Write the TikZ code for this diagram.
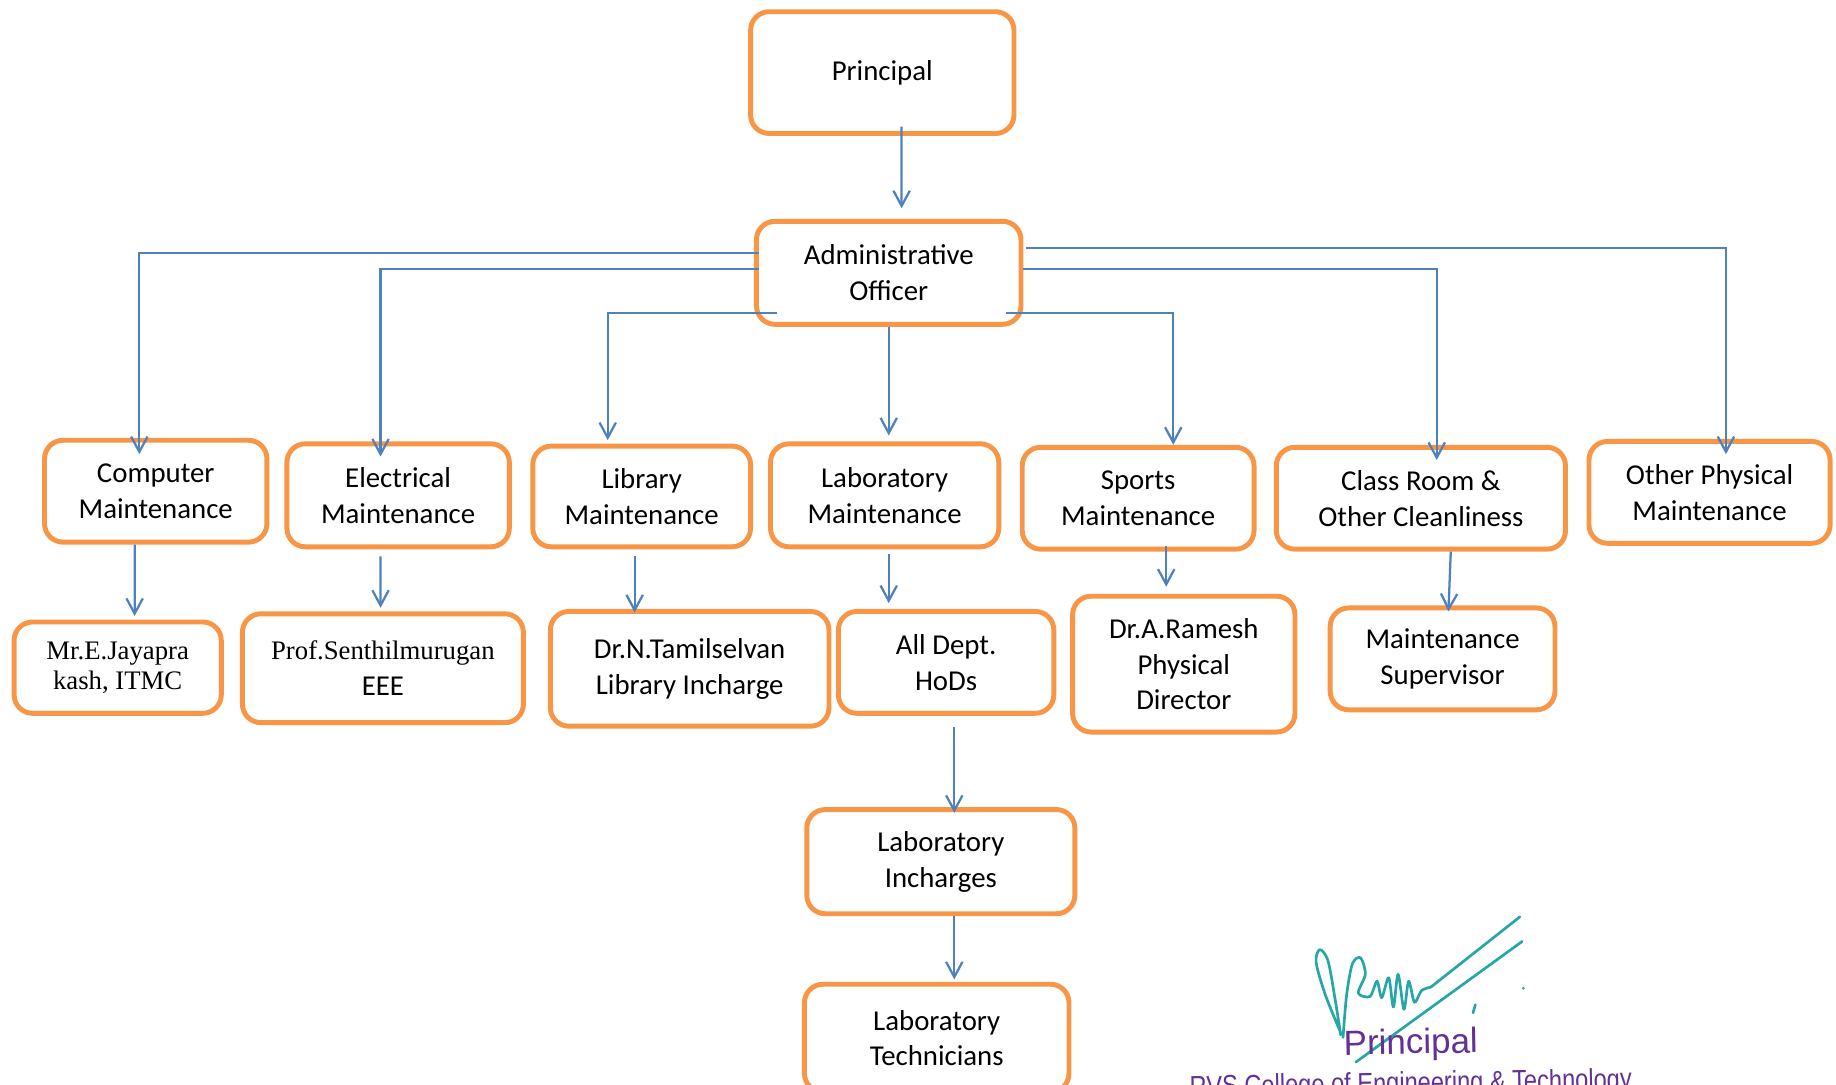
\documentclass[tikz,border=0pt]{standalone}
\usepackage{fontspec}
\setmainfont{Carlito}
\newfontfamily\timesfont{Liberation Serif}
\newfontfamily\stampfont{Liberation Sans}
\usetikzlibrary{positioning, arrows.meta}
\definecolor{BoxOrange}{RGB}{247,150,70}
\definecolor{LinkBlue}{RGB}{79,129,189}
\definecolor{StampPurple}{RGB}{98,48,150}
\definecolor{InkTeal}{RGB}{38,166,164}

\begin{document}
\begin{tikzpicture}[
    x=0.02cm, y=-0.02cm, % one unit = one pixel of the sheet
    >={Straight Barb[length=2.6mm, width=2.8mm]},
    box/.style={draw=BoxOrange, line width=2.4pt, rounded corners=9pt, align=center, inner sep=2pt, font=\fontsize{14}{17.4}\selectfont},
    serifbox/.style={box, font=\timesfont\fontsize{13}{14.8}\selectfont},
    link/.style={->, draw=LinkBlue, line width=1.1pt},
    sign/.style={draw=InkTeal, line width=1.3pt, line cap=round, line join=round},
    stamp/.style={text=StampPurple, inner sep=0pt, font=\stampfont\fontsize{17}{20}\selectfont}
]
    \clip (0,0) rectangle (1568,926);

    % 1. Principal and AO (top)
    \node[box, minimum width=4.5cm, minimum height=2.08cm] (principal) at (753.5,62) {Principal};
    \node[box, minimum width=4.52cm, minimum height=1.76cm] (ao) at (759,233) {Administrative\\ Officer};

    % 2. Maintenance sections (middle row)
    \node[box, minimum width=3.8cm, minimum height=1.74cm] (comp) at (133,419.5) {Computer\\ Maintenance};
    \node[box, minimum width=3.8cm, minimum height=1.76cm] (elec) at (340,423) {Electrical\\ Maintenance};
    \node[box, minimum width=3.72cm, minimum height=1.72cm] (lib) at (548,424) {Library\\ Maintenance};
    \node[box, minimum width=3.9cm, minimum height=1.76cm] (lab) at (755.5,423) {Laboratory\\ Maintenance};
    \node[box, minimum width=3.96cm, minimum height=1.74cm] (sports) at (972,425.5) {Sports\\ Maintenance};
    \node[box, minimum width=4.94cm, minimum height=1.74cm] (clean) at (1213.5,425.5) {Class Room \&\\ Other Cleanliness};
    \node[box, minimum width=4.12cm, minimum height=1.74cm] (other) at (1460,420.5) {Other Physical\\ Maintenance};

    % 3. Incharges under each section
    \node[serifbox, minimum width=3.54cm, minimum height=1.56cm, below=1.28cm of comp, xshift=-0.65cm] (jaya) {Mr.E.Jayapra\\ kash, ITMC};
    \node[box, minimum width=4.8cm, minimum height=1.86cm, below=1.06cm of elec, xshift=-0.26cm] (senthil) {{\timesfont\fontsize{13}{14.8}\selectfont Prof.Senthilmurugan}\\ EEE};
    \node[box, minimum width=4.76cm, minimum height=1.96cm, below=1.02cm of lib, xshift=0.82cm] (tamil) {Dr.N.Tamilselvan\\ Library Incharge};
    \node[box, minimum width=3.68cm, minimum height=1.74cm, below=1.02cm of lab, xshift=1.05cm] (hods) {All Dept.\\ HoDs};
    \node[box, minimum width=3.8cm, minimum height=2.32cm, below=0.72cm of sports, xshift=0.78cm] (ramesh) {Dr.A.Ramesh\\ Physical\\ Director};
    \node[box, minimum width=3.84cm, minimum height=1.74cm, below=0.92cm of clean, xshift=0.37cm] (superv) {Maintenance\\ Supervisor};
    \node[box, minimum width=4.58cm, minimum height=1.78cm, below=1.56cm of hods, xshift=-0.09cm] (incharge) {Laboratory\\ Incharges};
    \node[box, minimum width=4.52cm, minimum height=1.84cm, below=1.12cm of incharge, xshift=-0.07cm] (tech) {Laboratory\\ Technicians};

    % 4. Connectors
    \draw[link] ([xshift=0.33cm, yshift=0.16cm]principal.south) -- ([xshift=0.22cm, yshift=0.18cm]ao.north);
    \draw[link] ([xshift=0.08cm, yshift=0.34cm]ao.west) -| ([xshift=-0.28cm, yshift=-0.28cm]comp.north);
    \draw[link] ([xshift=0.08cm, yshift=0.06cm]ao.west) -| ([xshift=-0.30cm, yshift=-0.26cm]elec.north);
    \draw[link] ([xshift=0.4cm, yshift=0.24cm]ao.south west) -| ([xshift=-0.58cm, yshift=0.06cm]lib.north);
    \draw[link] (ao.south) -- ([yshift=0.1cm]ao.south |- lab.north);
    \draw[link] ([xshift=-0.3cm, yshift=0.24cm]ao.south east) -| ([xshift=0.6cm]sports.north);
    \draw[link] ([yshift=0.06cm]ao.east) -| ([xshift=0.27cm, yshift=-0.26cm]clean.north);
    \draw[link] ([xshift=0.04cm, yshift=0.42cm]ao.east) -| ([xshift=0.28cm, yshift=-0.26cm]other.north);

    \draw[link] ([xshift=-0.36cm]comp.south) -- ([xshift=0.29cm, yshift=0.06cm]jaya.north);
    \draw[link] ([xshift=-0.30cm, yshift=-0.12cm]elec.south) -- ([xshift=-0.04cm, yshift=0.06cm]senthil.north);
    \draw[link] ([xshift=-0.12cm, yshift=-0.12cm]lib.south) -- ([xshift=-0.94cm, yshift=-0.06cm]tamil.north);
    \draw[link] ([xshift=0.07cm, yshift=-0.08cm]lab.south) -- ([xshift=-0.98cm, yshift=0.1cm]hods.north);
    \draw[link] ([xshift=0.48cm, yshift=0.1cm]sports.south) -- ([xshift=-0.3cm, yshift=0.12cm]ramesh.north);
    \draw[link] ([xshift=0.51cm]clean.south) -- ([xshift=0.1cm, yshift=-0.1cm]superv.north);
    \draw[link] ([xshift=0.14cm, yshift=-0.2cm]hods.south) -- ([xshift=0.23cm, yshift=-0.1cm]incharge.north);
    \draw[link] ([xshift=0.23cm]incharge.south) -- ([xshift=0.30cm, yshift=0.04cm]tech.north);

    % 5. Signature and seal (bottom right)
    \draw[sign] plot[smooth] coordinates {(1145,882) (1132,850) (1124,822) (1127,811) (1134,820) (1140,852) (1145,884)};
    \draw[sign] plot[smooth] coordinates {(1147,886) (1150,850) (1155,823) (1162,818) (1166,832) (1160,848) (1170,851) (1176,838) (1180,852) (1186,835) (1190,860) (1194,832) (1199,862) (1203,838) (1208,856) (1214,846) (1222,843)};
    \draw[sign] (1222,843) -- (1298,783);
    \draw[sign] (1158,907) -- (1300,804);
    \draw[sign] (1260,858) -- (1258,865);
    \fill[InkTeal] (1301,844) circle (1.3);
    \node[stamp, anchor=base, rotate=1] (seal) at (1205,900) {Principal};
    \node[stamp, anchor=base, rotate=1, font=\stampfont\fontsize{14}{16}\selectfont] (college) at (1205,933) {\scalebox{0.82}[1]{RVS College of Engineering \& Technology}};

\end{tikzpicture}
\end{document}
